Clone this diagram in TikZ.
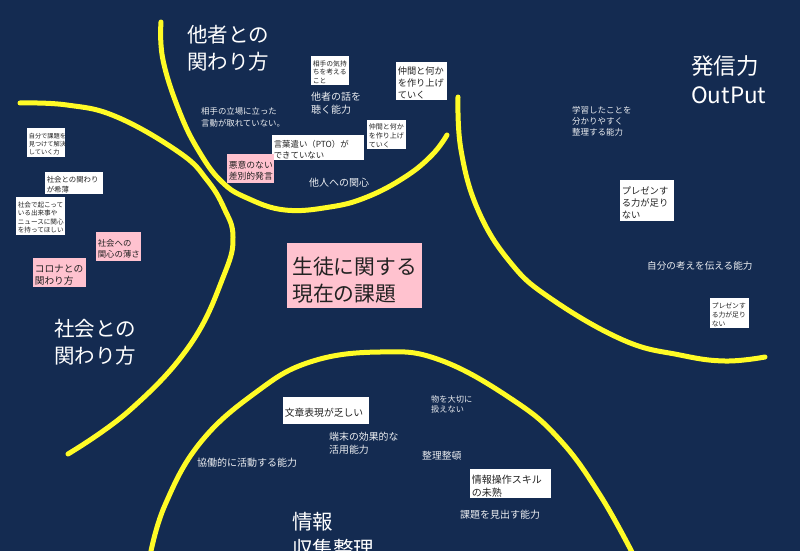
\documentclass[tikz,border=0pt]{standalone}
\usepackage{fontspec}
\setmainfont{Noto Sans CJK JP}
\definecolor{kadaiNavy}{HTML}{142B51}
\definecolor{kadaiYellow}{HTML}{FFFB26}
\definecolor{kadaiPink}{HTML}{FFC2CF}
\definecolor{kadaiInk}{HTML}{222222}
\newcommand\fsz[1]{\fontsize{#1}{#1}\selectfont\baselineskip=1.3\baselineskip}
\newcommand\fszwide[1]{\fontsize{#1}{#1}\selectfont\baselineskip=1.4\baselineskip}
\tikzset{
  area/.style={line width=5pt,draw=kadaiYellow,line cap=round,line join=round},
  title/.style={anchor=north west,inner sep=0pt,align=left,text=white,font=\fsz{20.5}},
  areatext/.style={anchor=north west,inner sep=0pt,align=left,text=white!92!kadaiNavy,font=\fsz{#1}},
  whitenote/.style n args={3}{anchor=north west,fill=white,text=kadaiInk,inner xsep=1.6pt,inner ysep=0pt,
    text width=#1pt,minimum height=#2pt,font=\fsz{#3},execute at begin node={\leavevmode\rule{0pt}{1.25em}}},
  pinknote/.style n args={3}{whitenote={#1}{#2}{#3},fill=kadaiPink}
}
\begin{document}
\begin{tikzpicture}[x=1pt,y=-1pt]
\useasboundingbox (0,0) rectangle (800,551);
\clip (0,0) rectangle (800,551);
\fill[kadaiNavy] (0,0) rectangle (800,551);
% dividing lines
\draw[area] plot[smooth,tension=0.7] coordinates {(161,22) (163,60) (180,113) (200,153) (222,182) (247,198) (285,210) (330,207) (367,197) (405,177) (432,155) (447,135)};
\draw[area] plot[smooth,tension=0.7] coordinates {(20,103) (67,105) (117,117) (180,153) (207,180) (224,208) (233,237) (224,275) (190,345) (130,410) (68,454)};
\draw[area] plot[smooth,tension=0.7] coordinates {(458,97) (461,150) (478,210) (510,262) (550,298) (623,340) (680,355) (725,361) (765,357)};
\draw[area] plot[smooth,tension=0.7] coordinates {(150,556) (165,505) (200,443) (255,393) (310,362) (380,352) (440,360) (513,400) (560,440) (600,495) (634,556)};
% centre
\node[pinknote={125}{65}{20.8},inner xsep=5pt] (kadai) at (287,243) {生徒に関する\\現在の課題};
% other people
\node[title] (taTitle) at (187,25) {他者との\\関わり方};
\node[whitenote={34.8}{29}{6.8}] (kimochi) at (311,56) {相手の気持\\ちを考える\\こと};
\node[areatext=10] (hanashi) at (311,91.5) {他者の話を\\聴く能力};
\node[whitenote={47.8}{38}{9.2}] (nakamaL) at (396,62) {仲間と何か\\を作り上げ\\ていく};
\node[whitenote={35.8}{29}{7}] (nakamaS) at (367,120) {仲間と何か\\を作り上げ\\ていく};
\node[areatext=8.4,font=\fszwide{8.4}] (tachiba) at (201,107.5) {相手の立場に立った\\言動が取れていない。};
\node[whitenote={88.8}{25}{8.4}] (kotoba) at (272,135) {言葉遣い（PTO）が\\できていない};
\node[pinknote={43.8}{29}{8.8}] (akui) at (227,154) {悪意のない\\差別的発言};
\node[areatext=10] (kanshin) at (309,178) {他人への関心};
% society
\node[title] (shaTitle) at (54,319) {社会との\\関わり方};
\node[whitenote={34.8}{29}{6.2}] (jibun) at (27,128) {自分で課題を\\見つけて解決\\していく力};
\node[whitenote={54.8}{22}{7.4}] (kakawari) at (45,172) {社会との関わり\\が希薄};
\node[whitenote={45.8}{38}{6.6}] (dekigoto) at (16,197) {社会で起こって\\いる出来事や\\ニュースに関心\\を持ってほしい};
\node[pinknote={41.8}{29}{8.4}] (ususa) at (96,232) {社会への\\関心の薄さ};
\node[pinknote={49.8}{29}{9.7}] (corona) at (33,258) {コロナとの\\関わり方};
% output
\node[title,font=\fsz{22.5}] (hatsuTitle) at (691,55.5) {発信力\\OutPut};
\node[areatext=8.5] (gakushu) at (572,106) {学習したことを\\分かりやすく\\整理する能力};
\node[whitenote={50.8}{41}{9.3}] (presenL) at (620,180) {プレゼンす\\る力が足り\\ない};
\node[areatext=9.6] (jibunKangae) at (647,261) {自分の考えを伝える能力};
\node[whitenote={35.8}{30}{6.8}] (presenS) at (710,298) {プレゼンす\\る力が足り\\ない};
% information
\node[title] (joTitle) at (292,512) {情報\\収集整理};
\node[whitenote={82.8}{27}{9.8}] (bunsho) at (283,397) {文章表現が乏しい};
\node[areatext=8.2] (mono) at (431,395) {物を大切に\\扱えない};
\node[areatext=9.9] (tanmatsu) at (329,432) {端末の効果的な\\活用能力};
\node[areatext=9.8] (seiri) at (422,451) {整理整頓};
\node[areatext=10] (kyodo) at (197,458) {協働的に活動する能力};
\node[whitenote={77.8}{29}{10}] (sosa) at (470,469) {情報操作スキル\\の未熟};
\node[areatext=10] (mida) at (460,510) {課題を見出す能力};
\end{tikzpicture}
\end{document}
